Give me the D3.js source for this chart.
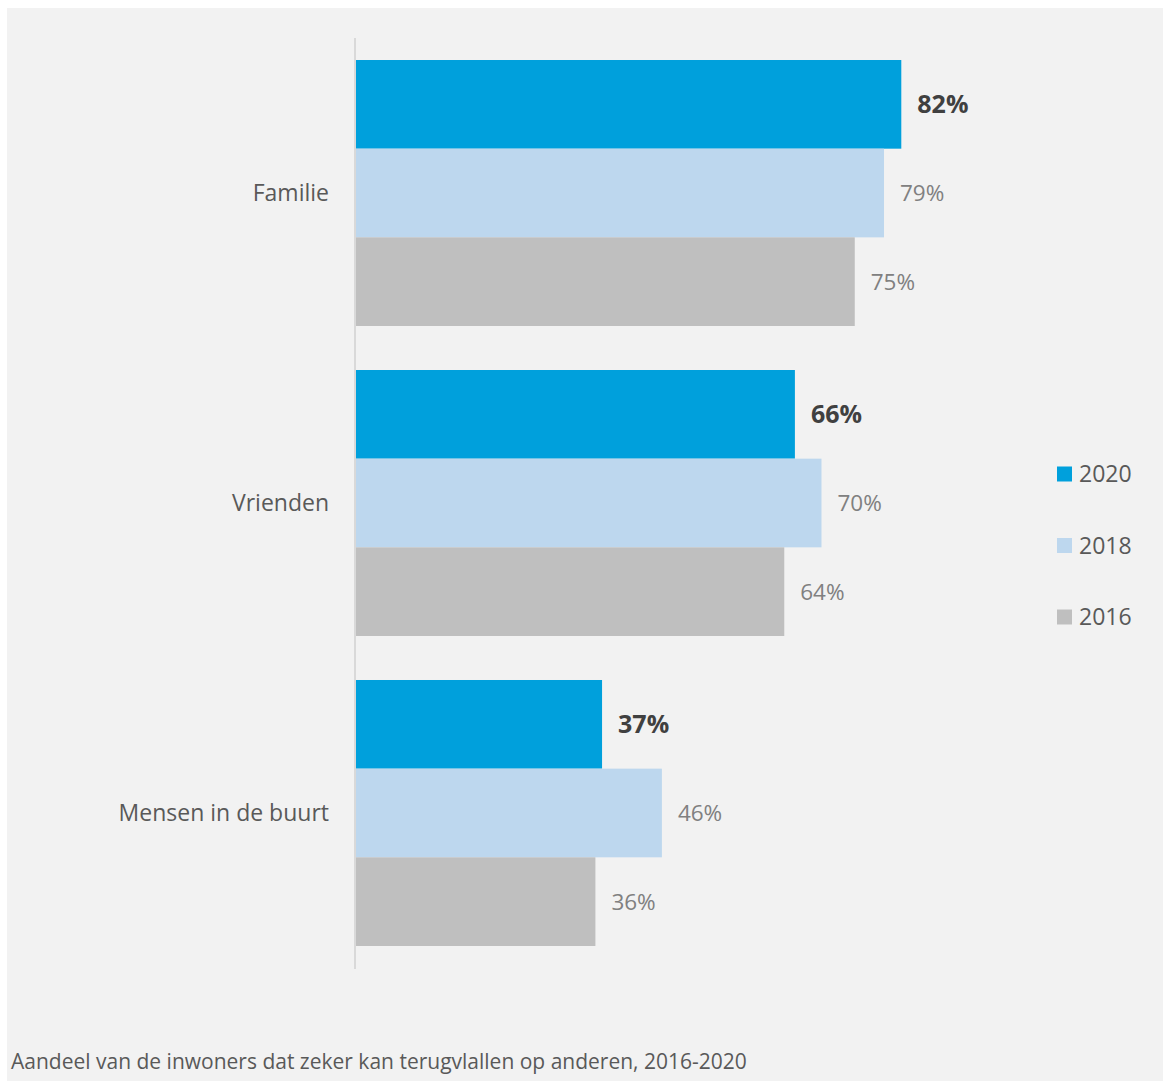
<!DOCTYPE html>
<html><head><meta charset="utf-8">
<script src="https://cdn.jsdelivr.net/npm/d3@7"></script>
<style>html,body{margin:0;padding:0;background:#fff;}svg{display:block;}</style>
</head><body>
<script>
const categories = ["Familie", "Vrienden", "Mensen in de buurt"];
const seriesNames = ["2020", "2018", "2016"];
const values2020 = [82, 66, 37];
const values2018 = [79.4, 70, 46];
const values2016 = [75, 64.4, 36];
const colors = ["#00a0dc", "#bdd7ee", "#bfbfbf"];
const caption = "Aandeel van de inwoners dat zeker kan terugvlallen op anderen, 2016-2020";

const W = 1163, H = 1081;
const font = "'Open Sans', 'Segoe UI', sans-serif";
const svg = d3.select("body").append("svg").attr("width", W).attr("height", H);
svg.append("rect").attr("x", 7).attr("y", 8).attr("width", W - 7).attr("height", H - 8).attr("fill", "#f2f2f2");

const x = d3.scaleLinear().domain([0, 100]).range([356, 1021]);
const y = d3.scaleBand().domain(categories).range([38, 968]).paddingInner(44 / 310).paddingOuter(0.071);
const sub = d3.scaleBand().domain(seriesNames).range([0, y.bandwidth()]);

const data = [values2020, values2018, values2016];
const g = svg.append("g");
categories.forEach((c, ci) => {
  seriesNames.forEach((s, si) => {
    const v = data[si][ci];
    g.append("rect")
      .attr("x", x(0)).attr("y", y(c) + sub(s))
      .attr("width", x(v) - x(0)).attr("height", sub.bandwidth())
      .attr("fill", colors[si]);
    g.append("text")
      .attr("x", x(v) + 16).attr("y", y(c) + sub(s) + sub.bandwidth() / 2)
      .attr("dy", "0.36em")
      .attr("font-family", font)
      .attr("font-size", si === 0 ? 25 : 22.5)
      .attr("font-weight", si === 0 ? "bold" : "normal")
      .attr("fill", si === 0 ? "#404040" : "#808080")
      .text(Math.round(v) + "%");
  });
  svg.append("text")
    .attr("x", 329).attr("y", y(c) + y.bandwidth() / 2)
    .attr("dy", "0.35em").attr("text-anchor", "end")
    .attr("font-family", font).attr("font-size", 23).attr("fill", "#595959")
    .text(c);
});

// axis line
svg.append("line").attr("x1", 355).attr("x2", 355).attr("y1", 38).attr("y2", 969)
  .attr("stroke", "#d9d9d9").attr("stroke-width", 2);

// legend
const ly = d3.scalePoint().domain(seriesNames).range([474, 617]);
seriesNames.forEach((s, i) => {
  svg.append("rect").attr("x", 1057).attr("y", ly(s) - 7.5).attr("width", 15).attr("height", 15).attr("fill", colors[i]);
  svg.append("text").attr("x", 1079).attr("y", ly(s)).attr("dy", "0.35em")
    .attr("font-family", font).attr("font-size", 23).attr("fill", "#595959").text(s);
});

svg.append("text").attr("x", 11).attr("y", 1069)
  .attr("font-family", font).attr("font-size", 21).attr("fill", "#595959").text(caption);
</script>
</body></html>
